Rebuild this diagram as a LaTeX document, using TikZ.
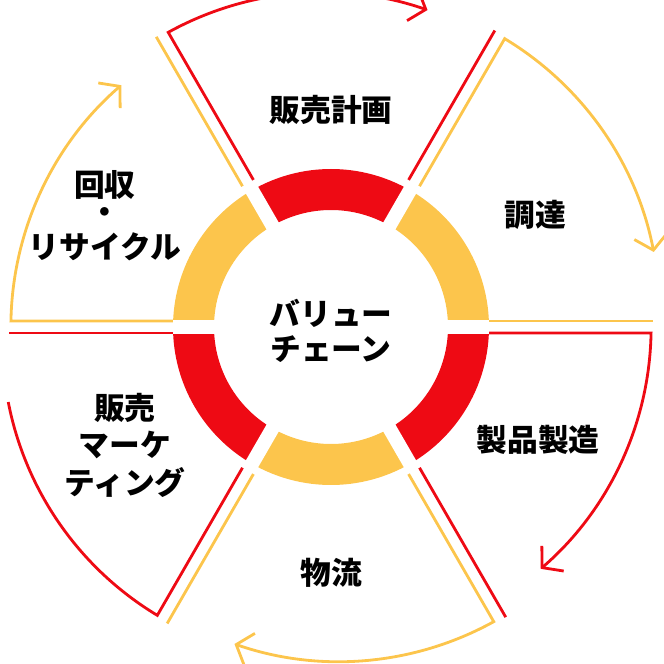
\documentclass[tikz,border=0pt]{standalone}
\usepackage{fontspec}
\newfontfamily\jp{Noto Sans CJK JP}
\usetikzlibrary{arrows.meta}
\definecolor{vred}{HTML}{EE0A14}
\definecolor{vyel}{HTML}{FCC54C}
\tikzset{
  lab/.style={font=\jp\bfseries\fontsize{17.5}{21}\selectfont, align=center, inner sep=0pt},
  seg/.style={line width=1.6pt},
  arr/.style={seg, -{Straight Barb[length=8pt,width=19pt,line width=1.6pt]}},
}
\begin{document}
\begin{tikzpicture}[scale=0.02]
\useasboundingbox (-331,-337) rectangle (333,327);
% ring
\foreach \a/\c in {60/vred,0/vyel,-60/vred,-120/vyel,180/vred,120/vyel}{
  \fill[\c] (\a:158) arc[start angle=\a,delta angle=60,radius=158] -- ({\a+60}:117) arc[start angle={\a+60},delta angle=-60,radius=117] -- cycle;
}
\foreach \a in {0,60,120,180,240,300}{
  \draw[white,line width=8pt] (0,0) -- (\a:170);
}
% sectors: corner line at ccw edge, free line at cw edge
\foreach \a/\c/\t in {120/vred/arr,60/vyel/arr,0/vred/arr,-60/vyel/arr,240/vred/seg,180/vyel/arr}{
  \begin{scope}[rotate=\a]
    \coordinate (s\a) at (158,-6);
    \coordinate (k\a) at (320,-6);
    \draw[\t,\c] (s\a) -- (k\a) arc[start angle=-1.07,delta angle=-48,radius=320.06];
  \end{scope}
  \begin{scope}[rotate=\a-60]
    \coordinate (f\a) at (158,6);
    \coordinate (g\a) at (322,6);
    \draw[seg,\c] (f\a) -- (g\a);
  \end{scope}
}
\node[lab] (plan) at (0,217) {販売計画};
\node[lab] (proc) at (204,112) {調達};
\node[lab] (mfg) at (207,-113) {製品製造};
\node[lab] (log) at (0,-246) {物流};
\node[lab] (c1) at (-226,142) {回収};
\node[lab] (c2) at (-226,111) {・};
\node[lab] (c3) at (-226,80) {リサイクル};
\node[lab] (m1) at (-206,-81) {販売};
\node[lab] (m2) at (-206,-118) {マーケ};
\node[lab] (m3) at (-206,-156) {ティング};
\node[lab] (v1) at (0,14) {バリュー};
\node[lab] (v2) at (0,-22) {チェーン};
\end{tikzpicture}
\end{document}
